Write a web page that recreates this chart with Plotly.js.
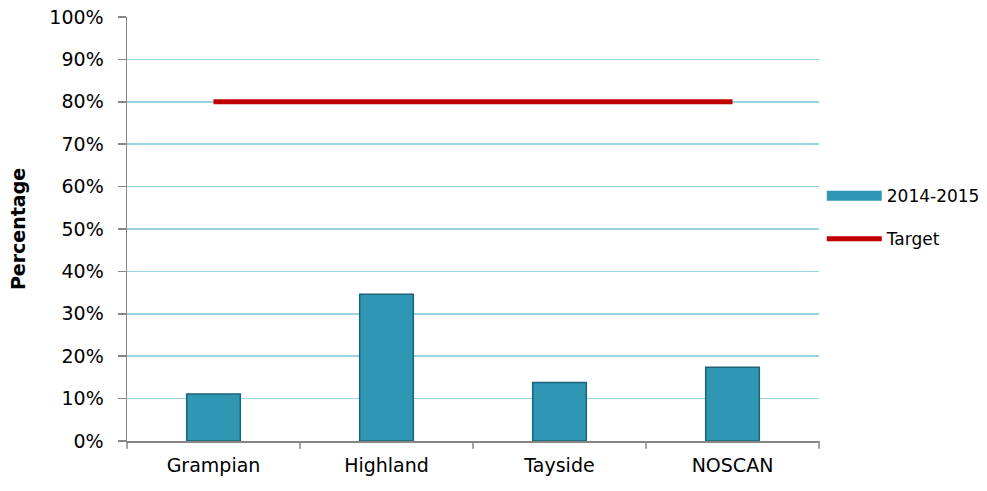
<!DOCTYPE html>
<html>
<head>
<meta charset="utf-8">
<script src="https://cdn.plot.ly/plotly-3.0.1.min.js"></script>
<style>body{margin:0;background:#fff}#chart{width:987px;height:491px}</style>
</head>
<body>
<div id="chart"></div>
<script>
// Regional share vs. the 80% target
const regions = ['Grampian', 'Highland', 'Tayside', 'NOSCAN'];
const share2014_15 = [11.1, 34.6, 13.8, 17.4];
const targetValue = [80, 80, 80, 80];
const yTicks = [0, 10, 20, 30, 40, 50, 60, 70, 80, 90, 100];
const yTickLabels = yTicks.map(v => v + '%');

const font = 'DejaVu Sans';
const barColor = '#2F96B3';

const traces = [
  {
    type: 'bar',
    name: '2014-2015',
    x: regions,
    y: share2014_15,
    width: 0.31,
    marker: {color: barColor, line: {color: '#1D6377', width: 1.5}},
    showlegend: false
  },
  // wide swatch for the series key
  {
    type: 'scatter',
    mode: 'lines',
    name: '2014-2015',
    legendgroup: 'a',
    x: [null],
    y: [null],
    line: {color: barColor, width: 11},
    hoverinfo: 'skip'
  },
  {
    type: 'scatter',
    mode: 'lines',
    name: 'Target',
    legendgroup: 'b',
    x: regions,
    y: targetValue,
    line: {color: '#C00000', width: 5}
  }
];

const layout = {
  width: 987,
  height: 491,
  margin: {l: 127, r: 168, t: 17, b: 50, autoexpand: false},
  paper_bgcolor: '#ffffff',
  plot_bgcolor: '#ffffff',
  font: {family: font, size: 19, color: '#000'},
  showlegend: true,
  legend: {
    x: 1.004, xanchor: 'left', y: 0.62, yanchor: 'top',
    font: {size: 17}, itemwidth: 55, tracegroupgap: 18,
    bgcolor: 'rgba(0,0,0,0)'
  },
  xaxis: {
    type: 'category',
    showline: true, linecolor: '#868686', linewidth: 1.5,
    ticks: '', showgrid: false, zeroline: false,
    ticklabelstandoff: 7,
    tickfont: {size: 19}
  },
  yaxis: {
    range: [0, 100],
    tickvals: yTicks, ticktext: yTickLabels,
    ticks: 'outside', ticklen: 8, tickcolor: '#868686', tickwidth: 1.5,
    showline: true, linecolor: '#868686', linewidth: 1.5,
    showgrid: true, gridcolor: '#9AD3E2', gridwidth: 1.5,
    zeroline: false,
    ticklabelstandoff: 10,
    tickfont: {size: 19},
    title: {text: '<b>Percentage</b>', font: {size: 19}, standoff: 18}
  }
};

// Category-boundary tick marks below the x axis
layout.shapes = [0, 1, 2, 3, 4].map(i => ({
  type: 'line', xref: 'paper', yref: 'paper',
  x0: i / 4, x1: i / 4, y0: 0, y1: -0.018,
  line: {color: '#868686', width: 1.5}
}));

Plotly.newPlot('chart', traces, layout, {displayModeBar: false, staticPlot: true});
</script>
</body>
</html>
